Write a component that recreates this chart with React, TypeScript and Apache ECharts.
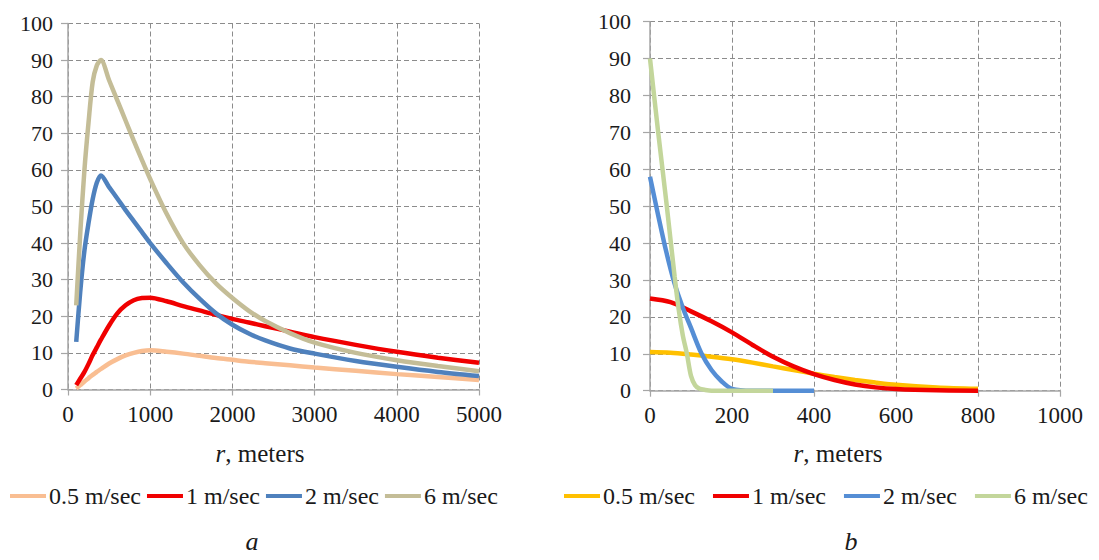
import React, { useEffect, useRef } from "react";
import * as echarts from "echarts";

// ---------- Panel a (r from 100 to 5000 m) ----------
const R_A = [100, 150, 200, 250, 300, 350, 400, 500, 600, 700, 800, 900, 1000, 1200, 1400, 1600, 1800, 2000, 2200, 2400, 2700, 3000, 3500, 4000, 4500, 5000];
const A_05 = [0.3, 1.2, 2.2, 3.1, 4, 4.8, 5.6, 7.1, 8.3, 9.3, 10, 10.5, 10.7, 10.3, 9.8, 9.2, 8.6, 8.1, 7.6, 7.2, 6.6, 6, 5.1, 4.2, 3.4, 2.6];
const A_1 = [1.2, 3, 4.8, 7, 9.4, 11.5, 13.6, 17.5, 20.8, 23, 24.4, 25, 25.1, 24.1, 22.8, 21.6, 20.4, 19.3, 18.3, 17.3, 15.8, 14.3, 12.2, 10.3, 8.7, 7.3];
const A_2 = [13, 27, 38, 45.5, 52, 56.5, 58.5, 55.3, 52.2, 49, 46, 43, 40, 34.5, 29.3, 24.8, 20.8, 17.7, 15.3, 13.4, 11.2, 9.8, 7.8, 6.2, 4.8, 3.7];
const A_6 = [23, 43, 60, 73, 84, 88.5, 90, 84.5, 79, 73.5, 68, 62.7, 57.5, 48, 40, 34, 29, 25, 21.5, 18.7, 15.4, 12.8, 10, 8, 6.4, 5];

// ---------- Panel b (r from 0 to 800 m) ----------
const R_B_05 = [0, 50, 100, 150, 200, 250, 300, 350, 400, 450, 500, 550, 600, 700, 800];
const B_05 = [10.5, 10.3, 9.8, 9.2, 8.5, 7.6, 6.6, 5.6, 4.6, 3.7, 2.9, 2.2, 1.6, 0.9, 0.5];
const R_B_1 = [0, 50, 100, 150, 200, 250, 300, 350, 400, 450, 500, 550, 600, 700, 800];
const B_1 = [25, 24, 21.5, 18.8, 15.8, 12.4, 9.2, 6.6, 4.5, 2.9, 1.7, 0.9, 0.45, 0.1, 0];
const R_B_2 = [0, 20, 40, 60, 80, 100, 125, 150, 175, 200, 250, 300, 400];
const B_2 = [58, 47.5, 37.5, 29, 22.5, 17, 10.2, 5.6, 2.5, 0.5, 0, 0, 0];
const R_B_6 = [0, 20, 40, 60, 70, 80, 90, 100, 110, 120, 135, 150, 200, 250, 300];
const B_6 = [90, 70, 51, 31, 22, 15, 10, 4, 1.5, 0.6, 0.2, 0, 0, 0, 0];

const NAMES = ["0.5 m/sec", "1 m/sec", "2 m/sec", "6 m/sec"];
const COLORS_A = ["#F9BE92", "#F00000", "#4F81BD", "#C4BD97"];
const COLORS_B = ["#FFC000", "#F00000", "#558ED5", "#C3D69B"];

const FONT = "Liberation Serif";

const zip = (xs: number[], ys: number[]) => xs.map((x, i) => [x, ys[i]]);

export default function App() {
  const ref = useRef<HTMLDivElement>(null);
  useEffect(() => {
    if (!ref.current) return;
    const chart = echarts.init(ref.current, undefined, { renderer: "svg" });

    const axisLine = { show: true, onZero: false, lineStyle: { color: "#a6a6a6", width: 1.5 } };
    const axisTick = { show: true, length: 6, lineStyle: { color: "#a6a6a6", width: 1.2 } };
    const splitLine = { show: true, lineStyle: { color: "#8c8c8c", width: 1, type: [5, 3] as any } };
    const label = (margin: number, size: number) => ({
      fontSize: size,
      color: "#1a1a1a",
      fontFamily: FONT,
      margin,
      formatter: (v: number) => String(v),
    });

    const lineSeries = (name: string, data: number[][], color: string, idx: number) => ({
      type: "line",
      name,
      xAxisIndex: idx,
      yAxisIndex: idx,
      data,
      showSymbol: false,
      smooth: 0.3,
      lineStyle: { color, width: 4.5 },
      itemStyle: { color },
      emphasis: { disabled: true },
    });

    const aData = [A_05, A_1, A_2, A_6];
    const bR = [R_B_05, R_B_1, R_B_2, R_B_6];
    const bData = [B_05, B_1, B_2, B_6];

    const legendCommon = {
      icon: "rect",
      itemWidth: 36,
      itemHeight: 4,
      selectedMode: false,
      textStyle: { fontSize: 24, color: "#1a1a1a", fontFamily: FONT, padding: [0, 0, 0, -2] },
      orient: "horizontal",
      top: 484,
      padding: 0,
    };

    const axisName = (x: number) => ({
      type: "text",
      x,
      y: 453,
      style: {
        text: "{i|r}{n|, meters}",
        fill: "#1a1a1a",
        align: "center",
        verticalAlign: "middle",
        rich: {
          i: { fontStyle: "italic", fontFamily: FONT, fontSize: 25, fill: "#1a1a1a" },
          n: { fontFamily: FONT, fontSize: 25, fill: "#1a1a1a" },
        },
      },
    });

    chart.setOption({
      animation: false,
      grid: [
        { left: 68, top: 23.5, width: 411, height: 366 },
        { left: 650, top: 21.7, width: 410, height: 369 },
      ],
      xAxis: [
        { gridIndex: 0, type: "value", min: 0, max: 5000, interval: 1000, axisLine, axisTick, splitLine, axisLabel: label(13, 23) },
        { gridIndex: 1, type: "value", min: 0, max: 1000, interval: 200, axisLine, axisTick, splitLine, axisLabel: label(13, 23) },
      ],
      yAxis: [
        { gridIndex: 0, type: "value", min: 0, max: 100, interval: 10, axisLine, axisTick: { ...axisTick, length: 7 }, splitLine, axisLabel: label(15, 22) },
        { gridIndex: 1, type: "value", min: 0, max: 100, interval: 10, axisLine, axisTick: { ...axisTick, length: 7 }, splitLine, axisLabel: label(19, 22) },
      ],
      legend: [
        { ...legendCommon, left: 10, itemGap: 6, data: NAMES.map((n) => "a:" + n), formatter: (n: string) => n.slice(2) },
        { ...legendCommon, left: 564, itemGap: 18, data: NAMES.map((n) => "b:" + n), formatter: (n: string) => n.slice(2) },
      ],
      series: [
        ...NAMES.map((n, i) => lineSeries("a:" + n, zip(R_A, aData[i]), COLORS_A[i], 0)),
        ...NAMES.map((n, i) => lineSeries("b:" + n, zip(bR[i], bData[i]), COLORS_B[i], 1)),
      ],
      graphic: [
        axisName(260),
        axisName(838),
        {
          type: "text",
          x: 252,
          y: 541,
          style: { text: "a", fontFamily: FONT, fontSize: 26, fontStyle: "italic", fill: "#1a1a1a", align: "center", verticalAlign: "middle" },
        },
        {
          type: "text",
          x: 851,
          y: 541,
          style: { text: "b", fontFamily: FONT, fontSize: 26, fontStyle: "italic", fill: "#1a1a1a", align: "center", verticalAlign: "middle" },
        },
      ],
    });
    return () => chart.dispose();
  }, []);
  return (
    <div
      ref={ref}
      style={{ position: "absolute", left: 0, top: 0, width: 1099, height: 560, background: "#ffffff" }}
    />
  );
}
